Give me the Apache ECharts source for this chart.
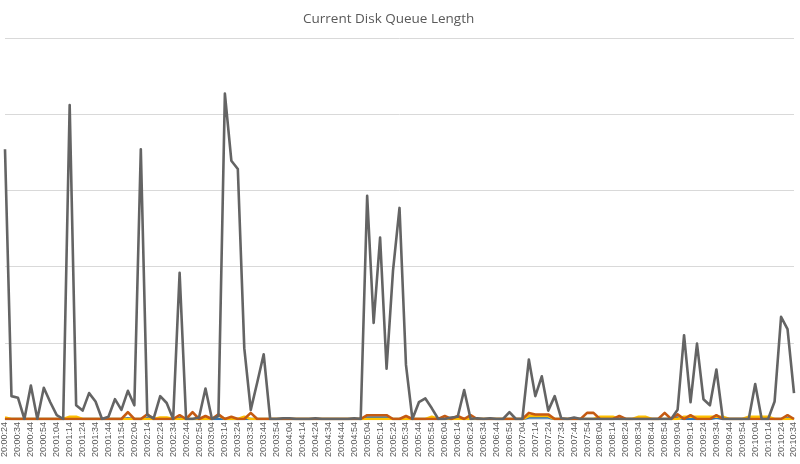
<!DOCTYPE html>
<html><head><meta charset="utf-8">
<script src="https://cdn.jsdelivr.net/npm/echarts@6/dist/echarts.min.js"></script>
<style>html,body{margin:0;padding:0;background:#fff}#c{width:800px;height:464px}</style>
</head><body><div id="c"></div>
<script>
var title = "Current Disk Queue Length";
var categories = [
"20:00:24","20:00:29","20:00:34","20:00:39","20:00:44","20:00:49","20:00:54","20:00:59",
"20:01:04","20:01:09","20:01:14","20:01:19","20:01:24","20:01:29","20:01:34","20:01:39","20:01:44","20:01:49","20:01:54","20:01:59",
"20:02:04","20:02:09","20:02:14","20:02:19","20:02:24","20:02:29","20:02:34","20:02:39","20:02:44","20:02:49","20:02:54","20:02:59",
"20:03:04","20:03:09","20:03:14","20:03:19","20:03:24","20:03:29","20:03:34","20:03:39","20:03:44","20:03:49","20:03:54","20:03:59",
"20:04:04","20:04:09","20:04:14","20:04:19","20:04:24","20:04:29","20:04:34","20:04:39","20:04:44","20:04:49","20:04:54","20:04:59",
"20:05:04","20:05:09","20:05:14","20:05:19","20:05:24","20:05:29","20:05:34","20:05:39","20:05:44","20:05:49","20:05:54","20:05:59",
"20:06:04","20:06:09","20:06:14","20:06:19","20:06:24","20:06:29","20:06:34","20:06:39","20:06:44","20:06:49","20:06:54","20:06:59",
"20:07:04","20:07:09","20:07:14","20:07:19","20:07:24","20:07:29","20:07:34","20:07:39","20:07:44","20:07:49","20:07:54","20:07:59",
"20:08:04","20:08:09","20:08:14","20:08:19","20:08:24","20:08:29","20:08:34","20:08:39","20:08:44","20:08:49","20:08:54","20:08:59",
"20:09:04","20:09:09","20:09:14","20:09:19","20:09:24","20:09:29","20:09:34","20:09:39","20:09:44","20:09:49","20:09:54","20:09:59",
"20:10:04","20:10:09","20:10:14","20:10:19","20:10:24","20:10:29","20:10:34"
];
var grayValues = [
3.54,0.30,0.28,0,0.44,0,0.41,0.22,
0.05,0,4.12,0.18,0.11,0.34,0.23,0,0.03,0.26,0.12,0.37,
0.18,3.54,0.05,0.01,0.30,0.21,0,1.92,0,0,0.02,0.40,
0,0.04,4.27,3.39,3.28,0.93,0.12,0.48,0.85,0,0,0.01,
0.01,0,0,0,0.01,0,0,0,0,0,0.01,0,
2.93,1.26,2.38,0.66,1.95,2.77,0.71,0,0.22,0.27,0.14,0,
0,0.02,0.03,0.38,0,0.01,0,0.01,0,0,0.09,0,
0,0.78,0.30,0.56,0.11,0.30,0.01,0,0.02,0,0,0,
0,0,0,0,0,0,0,0,0,0,0,0,
0.12,1.10,0.22,0.99,0.26,0.18,0.65,0,0,0,0,0,
0.46,0,0,0.23,1.34,1.18,0.34
];
var orangeValues = [
0,0,0,0,0,0,0,0,
0,0,0,0,0,0,0,0,0,0,0,0.09,
0,0,0.06,0,0,0,0,0.05,0,0.09,0,0.04,
0,0.06,0,0.03,0,0,0.08,0,0,0,0,0,
0,0,0,0,0,0,0,0,0,0,0,0,
0.05,0.05,0.05,0.05,0,0,0.04,0,0,0,0,0,
0.04,0,0.04,0,0.05,0,0,0,0,0,0,0,
0,0.08,0.06,0.06,0.06,0,0,0,0,0,0.08,0.08,
0,0,0,0.04,0,0,0,0,0,0,0.08,0,
0.06,0,0.05,0,0,0,0.05,0,0,0,0,0,
0,0,0,0,0,0.05,0
];
var yellowValues = [
0.02,0,0,0,0,0,0,0,
0,0,0.03,0.03,0,0,0,0,0,0,0,0,
0,0,0,0,0.02,0.02,0,0,0,0,0,0,
0,0.05,0,0,0,0.03,0,0,0,0,0,0,
0,0,0,0,0,0,0,0,0,0,0,0,
0,0,0,0,0,0,0,0,0,0,0.03,0,
0,0,0,0,0,0,0,0,0,0,0,0,
0,0.04,0.04,0.04,0.04,0,0,0,0,0,0,0,
0.03,0.03,0.03,0,0,0,0.03,0.03,0,0,0,0,
0,0.03,0.03,0.03,0.03,0.03,0.03,0.03,0,0,0,0.03,
0.03,0.03,0.03,0,0,0,0
];
var blueValues = [
0,0,0,0,0,0,0,0,
0,0,0,0,0,0,0,0,0,0,0,0.01,
0,0,0.01,0,0,0,0,0.01,0,0,0,0,
0,0,0,0,0,0,0,0,0,0,0,0,
0,0,0,0,0,0,0,0,0,0,0,0,
0.02,0.02,0.02,0.02,0,0,0,0,0,0,0,0,
0,0,0.02,0,0,0,0,0,0,0,0,0,
0,0.02,0.02,0.02,0.02,0,0,0,0,0,0,0,
0,0,0,0,0,0,0,0,0,0,0,0,
0.02,0,0,0,0,0,0.02,0,0,0,0,0,
0,0,0,0,0,0.01,0
];

function lineSeries(name, data, color, z) {
  return {name: name, type: 'line', data: data, symbol: 'none', z: z,
    lineStyle: {color: color, width: 2.6, join: 'round'}, itemStyle: {color: color}, animation: false};
}
var chart = echarts.init(document.getElementById('c'), null, {renderer: 'canvas'});
chart.setOption({
  animation: false,
  backgroundColor: '#ffffff',
  title: {text: title, left: 298, top: 7,
    textStyle: {fontFamily: 'Open Sans', fontSize: 13.5, fontWeight: 'normal', color: '#595959'}},
  grid: {left: 5, right: 6, top: 38, bottom: 45, containLabel: false},
  xAxis: {type: 'category', data: categories, boundaryGap: false,
    axisLine: {lineStyle: {color: '#d9d9d9'}}, axisTick: {show: false},
    axisLabel: {interval: 1, rotate: 90, fontSize: 9, fontFamily: 'Liberation Sans', color: '#595959', margin: 3}},
  yAxis: {type: 'value', min: 0, max: 5, interval: 1,
    axisLabel: {show: false}, axisLine: {show: false}, axisTick: {show: false},
    splitLine: {lineStyle: {color: '#d9d9d9', width: 1}}},
  series: [
    lineSeries('Blue', blueValues, '#2e75b6', 2),
    lineSeries('Yellow', yellowValues, '#ffc000', 3),
    lineSeries('Orange', orangeValues, '#c55a11', 4),
    lineSeries('Gray', grayValues, '#646464', 5)
  ]
});
</script></body></html>
